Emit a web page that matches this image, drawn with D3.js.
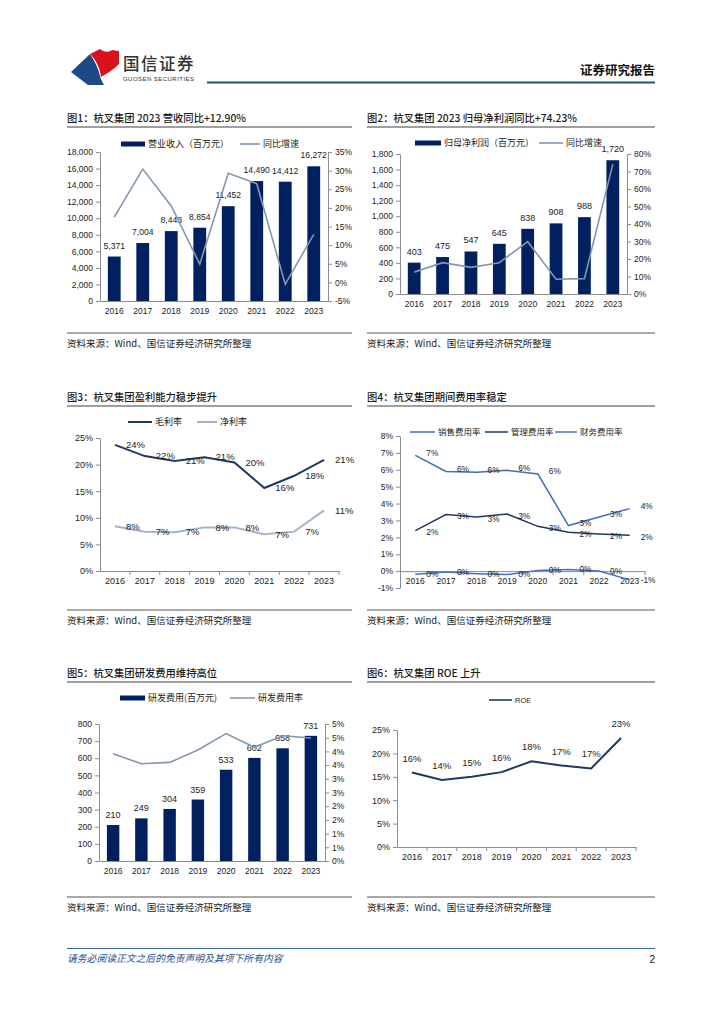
<!DOCTYPE html>
<html>
<head>
<meta charset="utf-8">
<style>
  body { margin: 0; background: #fff; }
</style>
</head>
<body>
<svg id="page" width="724" height="1024"></svg>
<script src="https://cdn.jsdelivr.net/npm/d3@7/dist/d3.min.js"></script>
<script>
// ---- data ----
const years = ["2016", "2017", "2018", "2019", "2020", "2021", "2022", "2023"];

const revenue = [5371, 7004, 8443, 8854, 11452, 14490, 14412, 16272];      // 百万元
const revenueGrowth = [17.5, 30.4, 20.5, 4.9, 29.3, 26.5, -0.5, 12.9];     // %

const profit = [403, 475, 547, 645, 838, 908, 988, 1720];                   // 百万元
const profitGrowth = [12.5, 17.9, 15.2, 17.9, 29.9, 8.4, 8.8, 74.2];        // %

const grossMargin = [23.7, 21.6, 20.7, 21.4, 20.4, 15.6, 17.9, 20.9];
const netMargin = [8.4, 7.4, 7.3, 8.2, 8.2, 6.9, 7.4, 11.4];

const salesRate = [6.85, 5.9, 5.85, 5.97, 5.75, 2.7, 3.2, 3.7];
const adminRate = [2.4, 3.35, 3.2, 3.38, 2.65, 2.3, 2.2, 2.12];
const finRate = [-0.18, -0.06, -0.15, -0.2, 0.04, 0.1, 0.0, -0.52];

const rdCost = [210, 249, 304, 359, 533, 602, 658, 731];
const rdRate = [3.91, 3.55, 3.60, 4.05, 4.65, 4.15, 4.57, 4.49];

const roe = [15.9, 14.3, 15.0, 16.0, 18.3, 17.4, 16.8, 23.3];

const revTicks = d3.range(0, 18001, 2000);
const revGrowthTicks = d3.range(-5, 36, 5);
const profitTicks = d3.range(0, 1801, 200);
const profitGrowthTicks = d3.range(0, 81, 10);
const marginTicks = d3.range(0, 26, 5);
const expenseTicks = d3.range(-1, 9, 1);
const rdTicks = d3.range(0, 801, 100);
const rdRateTicks = d3.range(0, 5.01, 0.5);
const roeTicks = d3.range(0, 26, 5);

// ---- look ----
const CN = '"Noto Sans CJK SC", sans-serif';
const NUM = '"Liberation Sans", Arial, sans-serif';
const AXIS = "#8c8c8c";
const BAR = "#002060";
const GROWTH = "#8497b0";
const NAVY = "#1f3864";

const svg = d3.select("#page");
const pct = d => Math.round(d) + "%";

// ---- page header / footer ----
svg.append("path")
  .attr("d", "M71,72 L90,54 C94,60 97,66 99,72 C100,77 101,80 104,85 L88,85 Z")
  .attr("fill", "#1d4a86");
svg.append("path")
  .attr("d", "M90,54 L100,49 C104,52 108,53 112,50 L119,51 L119,64 C113,70 106,74 101,77 C100,68 96,60 90,54 Z")
  .attr("fill", "#d7141e");
svg.append("text").attr("x", 123).attr("y", 70)
  .style("font-family", CN).style("font-size", "16.5px").style("font-weight", 500)
  .attr("fill", "#333").attr("letter-spacing", 1.5).text("国信证券");
svg.append("text").attr("x", 123).attr("y", 81)
  .style("font-family", NUM).style("font-size", "6px").attr("fill", "#333")
  .attr("textLength", 71).text("GUOSEN SECURITIES");
svg.append("line").attr("x1", 207).attr("x2", 655).attr("y1", 82.5).attr("y2", 82.5)
  .attr("stroke", "#1f4e8c").attr("stroke-width", 2);
svg.append("text").attr("x", 655).attr("y", 75).attr("text-anchor", "end")
  .style("font-family", CN).style("font-size", "12.5px").style("font-weight", 700)
  .attr("fill", "#111").text("证券研究报告");

svg.append("line").attr("x1", 67).attr("x2", 655).attr("y1", 948.5).attr("y2", 948.5)
  .attr("stroke", "#3d6a9e").attr("stroke-width", 1);
svg.append("text").attr("x", 67).attr("y", 962)
  .style("font-family", CN).style("font-size", "9.8px").style("font-style", "italic")
  .attr("fill", "#1f4e8c").text("请务必阅读正文之后的免责声明及其项下所有内容");
svg.append("text").attr("x", 655).attr("y", 963).attr("text-anchor", "end")
  .style("font-family", NUM).style("font-size", "10px").attr("fill", "#111").text("2");

// ---- panel frame helpers ----
function title(x, x2, y, txt) {
  svg.append("text").attr("x", x).attr("y", y)
    .style("font-family", CN).style("font-size", "10.3px").style("font-weight", 500)
    .attr("fill", "#1a1a1a").text(txt);
  svg.append("line").attr("x1", x).attr("x2", x2).attr("y1", y + 5).attr("y2", y + 5)
    .attr("stroke", "#7f7f7f").attr("stroke-width", 1.3);
}

function source(x, x2, y) {
  svg.append("line").attr("x1", x).attr("x2", x2).attr("y1", y).attr("y2", y)
    .attr("stroke", "#555").attr("stroke-width", 1);
  svg.append("text").attr("x", x).attr("y", y + 14)
    .style("font-family", CN).style("font-size", "9.5px")
    .attr("fill", "#222").text("资料来源：Wind、国信证券经济研究所整理");
}

function legendBar(x, y, w, label, size) {
  svg.append("rect").attr("x", x).attr("y", y - 2.5).attr("width", w).attr("height", 5).attr("fill", BAR);
  svg.append("text").attr("x", x + w + 3).attr("y", y).attr("dy", "0.35em")
    .style("font-family", CN).style("font-size", size + "px").attr("fill", "#222").text(label);
}

function legendLine(x, w, y, color, width, label, size, font) {
  svg.append("line").attr("x1", x).attr("x2", x + w).attr("y1", y).attr("y2", y)
    .attr("stroke", color).attr("stroke-width", width);
  svg.append("text").attr("x", x + w + 3).attr("y", y).attr("dy", "0.35em")
    .style("font-family", font || CN).style("font-size", size + "px").attr("fill", "#222").text(label);
}

function styleAxis(g, size) {
  g.attr("font-family", NUM).attr("font-size", size);
  g.select(".domain").attr("stroke", AXIS);
  g.selectAll(".tick line").attr("stroke", AXIS);
  g.selectAll(".tick text").attr("fill", "#222");
}

// ---- bar + line combo ----
function barLineChart(o) {
  const x = d3.scaleBand().domain(years).range([o.x0, o.x1])
    .paddingInner(o.pad).paddingOuter(o.pad / 2);
  const yl = d3.scaleLinear().domain(o.leftDomain).range([o.yBottom, o.yTop]);
  const yr = d3.scaleLinear().domain(o.rightDomain).range([o.yBottom, o.yTop]);
  const g = svg.append("g");

  g.append("g").attr("transform", `translate(${o.x0},0)`)
    .call(d3.axisLeft(yl).tickValues(o.leftTicks).tickFormat(o.leftFmt).tickSize(4).tickSizeOuter(0).tickPadding(3))
    .call(s => styleAxis(s, 8.5));
  g.append("g").attr("transform", `translate(${o.x1},0)`)
    .call(d3.axisRight(yr).tickValues(o.rightTicks).tickFormat(o.rightFmt).tickSize(4).tickSizeOuter(0).tickPadding(3))
    .call(s => styleAxis(s, 8.5));
  g.append("g").attr("transform", `translate(0,${o.yBottom})`)
    .call(d3.axisBottom(x).tickSize(0).tickPadding(7).tickSizeOuter(0))
    .call(s => styleAxis(s, 8.5));

  g.selectAll("rect.bar").data(o.bars).join("rect").attr("class", "bar")
    .attr("x", (d, i) => x(years[i]))
    .attr("y", d => yl(d))
    .attr("width", x.bandwidth())
    .attr("height", d => yl(0) - yl(d))
    .attr("fill", BAR);

  g.selectAll("text.val").data(o.bars).join("text").attr("class", "val")
    .attr("x", (d, i) => x(years[i]) + x.bandwidth() / 2)
    .attr("y", d => yl(d) - o.labelGap)
    .attr("text-anchor", "middle")
    .style("font-family", NUM).style("font-size", o.valSize + "px").attr("fill", "#222")
    .text(o.barFmt);

  const line = d3.line()
    .x((d, i) => x(years[i]) + x.bandwidth() / 2)
    .y(d => yr(d));
  g.append("path").datum(o.line).attr("d", line)
    .attr("fill", "none").attr("stroke", GROWTH).attr("stroke-width", 1.6);
}

// ---- multi line chart ----
function lineChart(o) {
  const x = d3.scaleBand().domain(years).range([o.x0, o.x1]);
  const y = d3.scaleLinear().domain(o.domain).range([o.yBottom, o.yTop]);
  const g = svg.append("g");
  const cx = i => x(years[i]) + x.bandwidth() / 2;
  const axisY = y(o.axisAt);

  g.append("g").attr("transform", `translate(${o.x0},0)`)
    .call(d3.axisLeft(y).tickValues(o.ticks).tickFormat(d => d + "%").tickSize(4).tickSizeOuter(0).tickPadding(3))
    .call(s => styleAxis(s, o.tickSize));
  g.append("g").attr("transform", `translate(0,${axisY})`)
    .call(d3.axisBottom(x).tickSize(0).tickPadding(o.xPad).tickSizeOuter(0))
    .call(s => styleAxis(s, o.tickSize));
  // small ticks on the category boundaries
  g.selectAll("line.bt").data(years.slice(1).concat(["end"])).join("line").attr("class", "bt")
    .attr("x1", d => d === "end" ? o.x1 : x(d))
    .attr("x2", d => d === "end" ? o.x1 : x(d))
    .attr("y1", axisY).attr("y2", axisY + 4)
    .attr("stroke", AXIS);

  o.series.forEach(s => {
    const line = d3.line().x((d, i) => cx(i)).y(d => y(d));
    g.append("path").datum(s.values).attr("d", line)
      .attr("fill", "none").attr("stroke", s.color).attr("stroke-width", s.width);
    const shift = s.shift || 0;
    g.selectAll(null).data(s.values).join("text")
      .attr("x", (d, i) => o.labelAbove ? cx(i) : cx(i) + 11)
      .attr("y", d => o.labelAbove ? y(d) - 11 : y(d) + shift)
      .attr("dy", o.labelAbove ? 0 : "0.35em")
      .attr("text-anchor", o.labelAbove ? "middle" : "start")
      .style("font-family", NUM).style("font-size", o.labelSize + "px").attr("fill", "#222")
      .text(pct);
  });
}

// ---- 图1 ----
title(67, 352, 122, "图1：杭叉集团 2023 营收同比+12.90%");
legendBar(121, 144, 24, "营业收入（百万元）", 9);
legendLine(240, 20, 144, GROWTH, 1.6, "同比增速", 9);
barLineChart({
  x0: 100, x1: 328, yTop: 152, yBottom: 301, pad: 0.55,
  leftDomain: [0, 18000], leftTicks: revTicks, leftFmt: d3.format(","),
  rightDomain: [-5, 35], rightTicks: revGrowthTicks, rightFmt: d => d + "%",
  bars: revenue, line: revenueGrowth, barFmt: d3.format(","), labelGap: 8, valSize: 8.6
});
source(67, 352, 333);

// ---- 图2 ----
title(367, 655, 122, "图2：杭叉集团 2023 归母净利润同比+74.23%");
legendBar(415, 143, 26, "归母净利润（百万元）", 9);
legendLine(539, 24, 143, GROWTH, 1.6, "同比增速", 9);
barLineChart({
  x0: 400, x1: 627, yTop: 154, yBottom: 294, pad: 0.55,
  leftDomain: [0, 1800], leftTicks: profitTicks, leftFmt: d3.format(","),
  rightDomain: [0, 80], rightTicks: profitGrowthTicks, rightFmt: d => d + "%",
  bars: profit, line: profitGrowth, barFmt: d3.format(","), labelGap: 8, valSize: 9
});
source(367, 655, 333);

// ---- 图3 ----
title(67, 352, 401, "图3：杭叉集团盈利能力稳步提升");
legendLine(128, 24, 422, NAVY, 2, "毛利率", 9);
legendLine(197, 20, 422, "#a5b4c8", 2, "净利率", 9);
lineChart({
  x0: 100, x1: 339, yTop: 438, yBottom: 571, domain: [0, 25], ticks: marginTicks,
  axisAt: 0, xPad: 7, tickSize: 9, labelSize: 9.5,
  series: [
    { values: grossMargin, color: NAVY, width: 2 },
    { values: netMargin, color: "#a5b4c8", width: 2 }
  ]
});
source(67, 352, 610);

// ---- 图4 ----
title(367, 655, 401, "图4：杭叉集团期间费用率稳定");
legendLine(410, 25, 432, "#3f6fb5", 1.5, "销售费用率", 8.5);
legendLine(485, 23, 432, NAVY, 1.5, "管理费用率", 8.5);
legendLine(555, 22, 432, "#4472c4", 1.5, "财务费用率", 8.5);
lineChart({
  x0: 400, x1: 645, yTop: 436, yBottom: 588, domain: [-1, 8], ticks: expenseTicks,
  axisAt: 0, xPad: 7, tickSize: 8.5, labelSize: 8.3,
  series: [
    { values: salesRate, color: "#3f6fb5", width: 1.5, shift: -2.5 },
    { values: adminRate, color: NAVY, width: 1.5, shift: 2 },
    { values: finRate, color: "#4472c4", width: 1.5 }
  ]
});
source(367, 655, 610);

// ---- 图5 ----
title(67, 352, 677, "图5：杭叉集团研发费用维持高位");
legendBar(120, 698, 25, "研发费用(百万元)", 9);
legendLine(230, 25, 698, GROWTH, 1.6, "研发费用率", 9);
barLineChart({
  x0: 99, x1: 325, yTop: 724, yBottom: 861, pad: 0.56,
  leftDomain: [0, 800], leftTicks: rdTicks, leftFmt: d => d,
  rightDomain: [0, 5], rightTicks: rdRateTicks, rightFmt: pct,
  bars: rdCost, line: rdRate, barFmt: d => d, labelGap: 7, valSize: 9
});
source(67, 352, 897);

// ---- 图6 ----
title(367, 655, 677, "图6：杭叉集团 ROE 上升");
legendLine(489, 23, 700, NAVY, 1.6, "ROE", 7.5, NUM);
lineChart({
  x0: 397, x1: 636, yTop: 730, yBottom: 847, domain: [0, 25], ticks: roeTicks,
  axisAt: 0, xPad: 7, tickSize: 9, labelSize: 9.5, labelAbove: true,
  series: [{ values: roe, color: NAVY, width: 2 }]
});
source(367, 655, 897);
</script>
</body>
</html>
